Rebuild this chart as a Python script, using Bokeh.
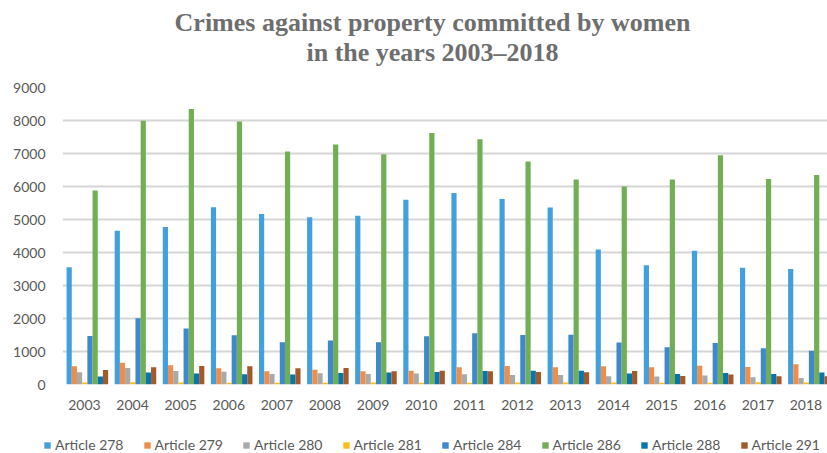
from bokeh.plotting import figure
from bokeh.models import (ColumnDataSource, Range1d, FixedTicker, Label, Legend,
                          LegendItem, NumeralTickFormatter)
from bokeh.layouts import column, row
from bokeh.transform import dodge
from bokeh.embed import file_html
from bokeh.resources import INLINE

# ---- data ----
years = ["2003", "2004", "2005", "2006", "2007", "2008", "2009", "2010",
         "2011", "2012", "2013", "2014", "2015", "2016", "2017", "2018"]
series_names = ["Article 278", "Article 279", "Article 280", "Article 281",
                "Article 284", "Article 286", "Article 288", "Article 291"]
art278 = [3550, 4660, 4770, 5370, 5170, 5070, 5110, 5600, 5800, 5620, 5360, 4090, 3610, 4050, 3540, 3500]
art279 = [550, 660, 580, 490, 400, 450, 400, 420, 520, 560, 520, 550, 520, 570, 530, 610]
art280 = [370, 500, 410, 390, 320, 340, 320, 330, 310, 290, 290, 250, 240, 270, 220, 200]
art281 = [60, 70, 60, 50, 50, 50, 60, 50, 50, 60, 60, 60, 50, 50, 70, 60]
art284 = [1470, 2010, 1700, 1490, 1280, 1330, 1280, 1460, 1550, 1500, 1510, 1270, 1130, 1260, 1100, 1020]
art286 = [5880, 7990, 8350, 7970, 7060, 7270, 6980, 7620, 7430, 6760, 6210, 6000, 6210, 6950, 6230, 6350]
art288 = [240, 360, 330, 310, 300, 350, 360, 380, 410, 420, 420, 330, 320, 350, 320, 360]
art291 = [440, 520, 560, 550, 490, 500, 400, 420, 400, 380, 370, 410, 260, 300, 250, 250]
series_values = [art278, art279, art280, art281, art284, art286, art288, art291]
colors = ["#44a0dc", "#ed8e4e", "#a9a9a9", "#f9be1d", "#3f88cb", "#72ae56", "#0a74ac", "#a25a2a"]
y_ticks = [0, 1000, 2000, 3000, 4000, 5000, 6000, 7000, 8000, 9000]
title_lines = ["Crimes against property committed by women", "in the years 2003\u20132018"]

data = {"x": list(range(len(years)))}
for i, vals in enumerate(series_values):
    data["s%d" % i] = vals
source = ColumnDataSource(data)

W = 827
LEFT = 62
x_start = -0.457
x_end = x_start + (W - LEFT) / 48.1
bar_w = 0.108
label_color = "#595959"


def strip(height, x_range, y_range):
    f = figure(width=W, height=height, output_backend="svg", toolbar_location=None,
               x_range=x_range, y_range=y_range,
               x_axis_location=None, y_axis_location=None, min_border=0)
    f.outline_line_color = None
    for g in f.xgrid + f.ygrid:
        g.visible = False
    return f


# ---------- title strip ----------
tf = strip(77, Range1d(0, 1), Range1d(0, 1))
for txt, yy in zip(title_lines, [55, 25]):
    tf.add_layout(Label(x=370, y=yy, x_units="screen", y_units="screen", text=txt,
                        text_align="center", text_baseline="alphabetic",
                        text_font="Liberation Serif", text_font_style="bold",
                        text_font_size="26px", text_color="#6e6e6e"))

# ---------- main chart ----------
p = figure(width=W, height=343, output_backend="svg", toolbar_location=None,
           x_range=Range1d(x_start, x_end), y_range=Range1d(0, 9000),
           min_border_left=LEFT, min_border_right=0, min_border_top=10,
           min_border_bottom=36)
p.outline_line_color = None
p.xgrid.grid_line_color = None
p.ygrid.ticker = FixedTicker(ticks=y_ticks)
p.ygrid.grid_line_color = "#d6d6d6"
p.ygrid.grid_line_width = 2

for i, name in enumerate(series_names):
    off = 0.06 + (i - 3.5) * bar_w
    p.vbar(x=dodge("x", off), top="s%d" % i, width=bar_w, bottom=0,
           source=source, fill_color=colors[i], line_color=None)

p.xaxis.ticker = FixedTicker(ticks=list(range(len(years))))
p.xaxis.major_label_overrides = {i: y for i, y in enumerate(years)}
p.xaxis.axis_line_color = None
p.xaxis.major_tick_line_color = None
p.xaxis.minor_tick_line_color = None
p.xaxis.major_tick_out = 0
p.xaxis.major_tick_in = 0
p.xaxis.major_label_standoff = 15
p.xaxis.major_label_text_font = "Lato"
p.xaxis.major_label_text_font_size = "14px"
p.xaxis.major_label_text_color = label_color

p.yaxis.ticker = FixedTicker(ticks=y_ticks)
p.yaxis.formatter = NumeralTickFormatter(format="0")
p.yaxis.axis_line_color = None
p.yaxis.major_tick_line_color = None
p.yaxis.minor_tick_line_color = None
p.yaxis.major_tick_out = 0
p.yaxis.major_tick_in = 0
p.yaxis.major_label_standoff = 17
p.yaxis.major_label_text_font = "Lato"
p.yaxis.major_label_text_font_size = "14px"
p.yaxis.major_label_text_color = label_color

# ---------- legend strip ----------
lf = strip(33, Range1d(x_start, x_end), Range1d(20000, 30000))
items = []
for i, (name, c) in enumerate(zip(series_names, colors)):
    off = 0.06 + (i - 3.5) * bar_w
    r = lf.vbar(x=dodge("x", off), top="s%d" % i, width=bar_w, bottom=0,
                source=source, fill_color=c, line_color=None)
    items.append(LegendItem(label=name, renderers=[r]))
legend = Legend(items=items, location=(43, 0), orientation="horizontal",
                glyph_width=8, glyph_height=8, label_standoff=4, spacing=19,
                padding=0, margin=0, border_line_color=None, background_fill_alpha=0,
                label_text_font="Lato", label_text_font_size="14px",
                label_text_color=label_color, label_height=14)
lf.add_layout(legend, "center")

layout = column(tf, p, row(lf), spacing=0)
open("out.html", "w").write(file_html(layout, INLINE))
